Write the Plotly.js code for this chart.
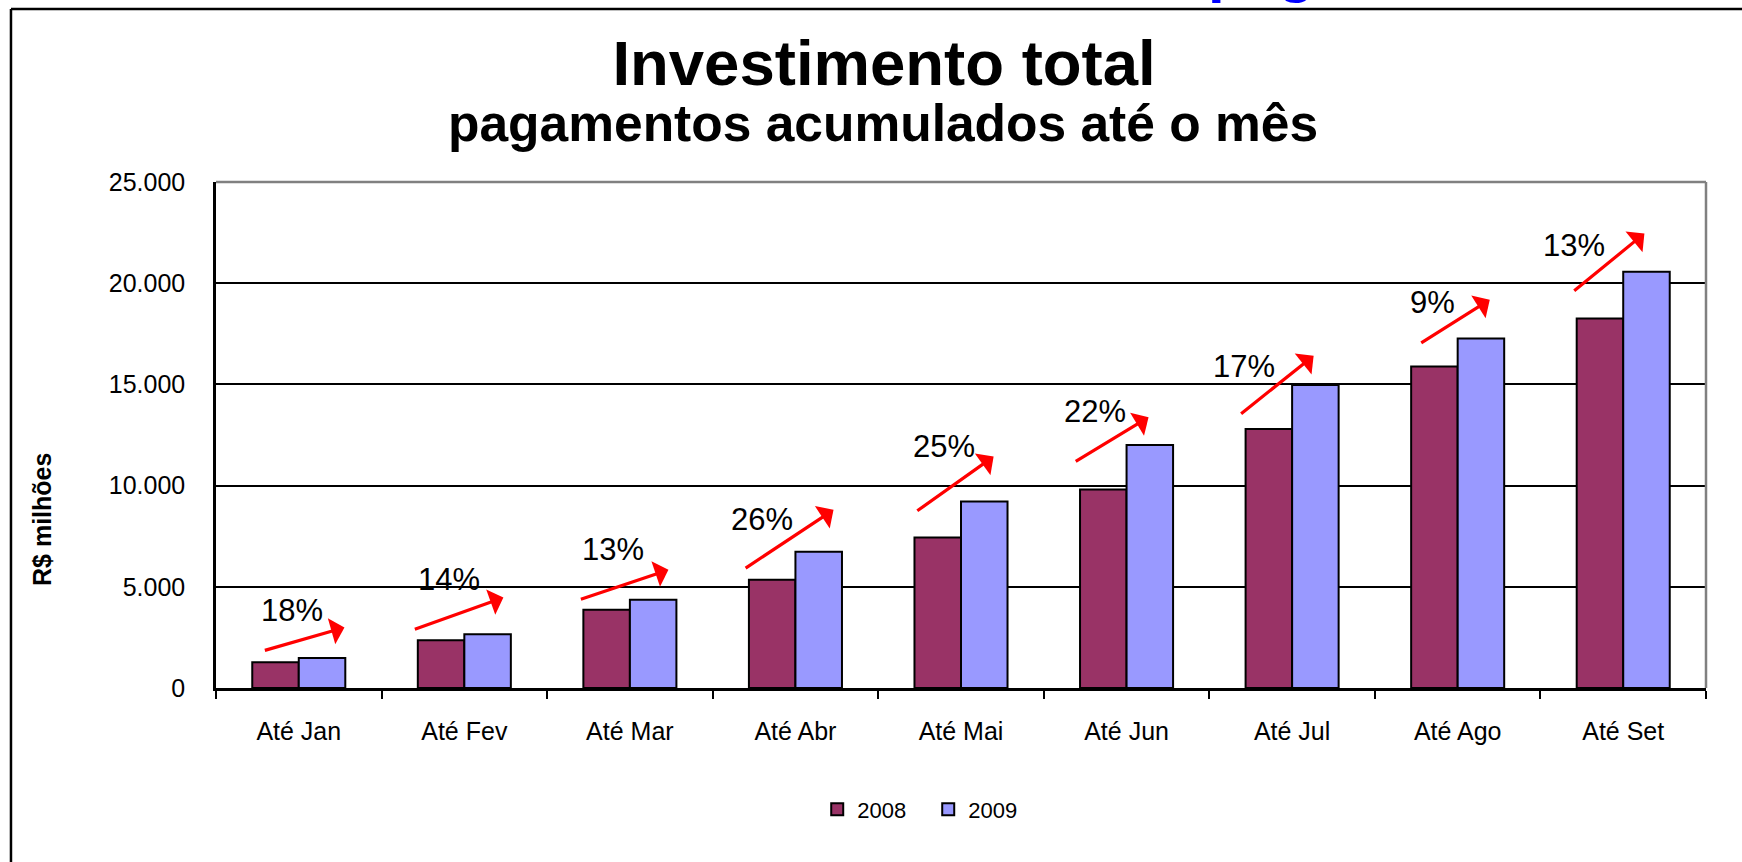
<!DOCTYPE html>
<html>
<head>
<meta charset="utf-8">
<script src="https://cdn.plot.ly/plotly-3.0.1.min.js"></script>
<style>
  html, body { margin: 0; padding: 0; background: #ffffff; }
  #chart { width: 1742px; height: 862px; }
</style>
</head>
<body>
<div id="chart"></div>
<script>
// ---- data ----
const categories = ["Até Jan", "Até Fev", "Até Mar", "Até Abr", "Até Mai", "Até Jun", "Até Jul", "Até Ago", "Até Set"];
const series2008 = [1270, 2360, 3870, 5350, 7430, 9810, 12800, 15880, 18250];
const series2009 = [1480, 2660, 4360, 6730, 9220, 12010, 14970, 17270, 20560];
const growthLabels = ["18%", "14%", "13%", "26%", "25%", "22%", "17%", "9%", "13%"];
const seriesNames = ["2008", "2009"];
const yTickVals = [0, 5000, 10000, 15000, 20000, 25000];

// ---- annotation placement (category index, value units) ----
const labelPosX = [-0.04, 0.91, 1.90, 2.80, 3.90, 4.81, 5.71, 6.85, 7.70];
const labelPosY = [3815, 5345, 6826, 8308, 11925, 13653, 15874, 19068, 21866];
const arrowTailX = [-0.214, 0.692, 1.695, 2.690, 3.727, 4.684, 5.683, 6.771, 7.695];
const arrowTailY = [1836, 2878, 4358, 5874, 8702, 11155, 13490, 17000, 19561];
const arrowHeadX = [0.276, 1.236, 2.233, 3.230, 4.197, 5.133, 6.130, 7.194, 8.128];
const arrowHeadY = [2986, 4467, 5839, 8801, 11432, 13376, 16417, 19186, 22459];

const FONT = "Liberation Sans, Arial, Helvetica, sans-serif";

const traces = [
  {
    type: "bar", name: seriesNames[0], x: categories, y: series2008,
    marker: { color: "#993366", line: { color: "#000000", width: 2 } },
    hoverinfo: "x+y"
  },
  {
    type: "bar", name: seriesNames[1], x: categories, y: series2009,
    marker: { color: "#9999FF", line: { color: "#000000", width: 2 } },
    hoverinfo: "x+y"
  }
];

const annotations = [];
for (let i = 0; i < categories.length; i++) {
  annotations.push({
    xref: "x", yref: "y", x: arrowHeadX[i], y: arrowHeadY[i],
    axref: "x", ayref: "y", ax: arrowTailX[i], ay: arrowTailY[i],
    text: "", showarrow: true, arrowhead: 1, arrowsize: 1.4, arrowwidth: 3.2,
    arrowcolor: "#FF0000", standoff: 0, startstandoff: 0
  });
  annotations.push({
    xref: "x", yref: "y", x: labelPosX[i], y: labelPosY[i],
    text: growthLabels[i], showarrow: false,
    font: { family: FONT, size: 31, color: "#000000" },
    xanchor: "center", yanchor: "middle"
  });
}
// subtitle
annotations.push({
  xref: "paper", yref: "paper", x: 0.4477, y: 1.117,
  text: "<b>pagamentos acumulados até o mês</b>", showarrow: false,
  font: { family: FONT, size: 51.5, color: "#000000" },
  xanchor: "center", yanchor: "middle"
});
// y-axis title
annotations.push({
  xref: "paper", yref: "paper", x: -0.1168, y: 0.334,
  text: "<b>R$ milhões</b>", showarrow: false, textangle: -90,
  font: { family: FONT, size: 25, color: "#000000" },
  xanchor: "center", yanchor: "middle"
});
// clipped blue heading fragment at the very top
annotations.push({
  xref: "paper", yref: "paper", x: 0.6644, y: 1.418,
  text: "<b>pag</b>", showarrow: false,
  font: { family: FONT, size: 60, color: "#0000FF" },
  xanchor: "left", yanchor: "middle"
});

const shapes = [
  { type: "line", xref: "paper", yref: "paper", x0: 0, x1: 1, y0: 1, y1: 1, line: { color: "#808080", width: 2.5 }, layer: "above" },
  { type: "line", xref: "paper", yref: "paper", x0: 1, x1: 1, y0: 0, y1: 1, line: { color: "#808080", width: 2.5 }, layer: "above" },
  { type: "line", xref: "paper", yref: "paper", x0: -0.1376, x1: 1.05, y0: 1.342, y1: 1.342, line: { color: "#000000", width: 2.5 }, layer: "above" },
  { type: "line", xref: "paper", yref: "paper", x0: -0.1376, x1: -0.1376, y0: -0.4, y1: 1.342, line: { color: "#000000", width: 2.5 }, layer: "above" }
];

const layout = {
  width: 1742, height: 862,
  paper_bgcolor: "#ffffff", plot_bgcolor: "#ffffff",
  separators: ",.",
  font: { family: FONT, color: "#000000" },
  margin: { l: 216, r: 36, t: 182, b: 174, pad: 0, autoexpand: false },
  title: {
    text: "<b>Investimento total</b>",
    font: { family: FONT, size: 63.5, color: "#000000" },
    x: 0.5075, xref: "container", xanchor: "center",
    y: 0.9275, yref: "container", yanchor: "middle"
  },
  barmode: "group", bargap: 0.438, bargroupgap: 0,
  showlegend: true,
  legend: {
    orientation: "h", x: 0.478, xanchor: "center", y: -0.24, yanchor: "middle",
    font: { family: FONT, size: 22, color: "#000000" },
    itemwidth: 30, entrywidth: 66, entrywidthmode: "pixels", bgcolor: "rgba(0,0,0,0)"
  },
  xaxis: {
    type: "category",
    showline: true, linecolor: "#000000", linewidth: 2.5,
    ticks: "outside", tickson: "boundaries", ticklen: 8, tickwidth: 2, tickcolor: "#000000",
    tickfont: { family: FONT, size: 25, color: "#000000" },
    ticklabelstandoff: 19,
    showgrid: false, zeroline: false, fixedrange: true
  },
  yaxis: {
    range: [0, 25000], tickvals: yTickVals, tickformat: ",d",
    showline: true, linecolor: "#000000", linewidth: 2.5,
    ticks: "", tickfont: { family: FONT, size: 25, color: "#000000" },
    ticklabelstandoff: 23,
    showgrid: true, gridcolor: "#000000", gridwidth: 1.6,
    zeroline: false, fixedrange: true
  },
  annotations: annotations,
  shapes: shapes
};

Plotly.newPlot("chart", traces, layout, { displayModeBar: false });
</script>
</body>
</html>
